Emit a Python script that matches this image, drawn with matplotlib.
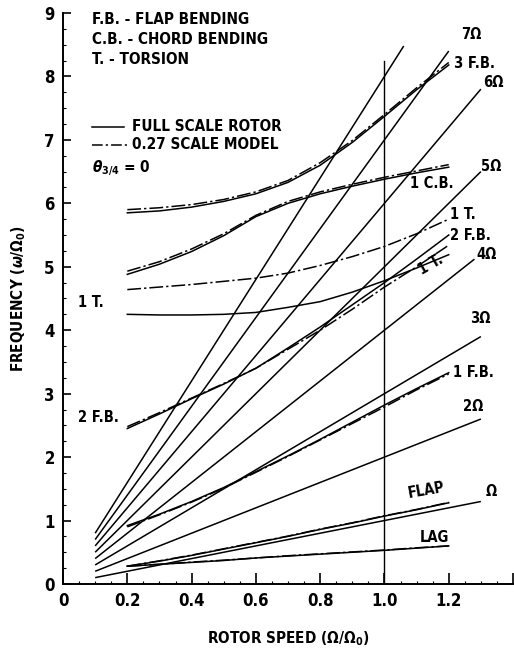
import matplotlib
matplotlib.use("Agg")
import matplotlib.pyplot as plt
from matplotlib import font_manager
from matplotlib.ticker import MultipleLocator, FixedLocator

cond = [f for f in font_manager.fontManager.ttflist
        if f.name == 'DejaVu Sans' and 'ondensed' in f.fname]
FONT = 'DejaVu Sans'
plt.rcParams['font.family'] = [FONT]
plt.rcParams['font.weight'] = 'bold'
if cond:
    plt.rcParams['font.stretch'] = 'condensed'
plt.rcParams['mathtext.fontset'] = 'dejavusans'

# ---------------- data ----------------
speed = [0.2, 0.3, 0.4, 0.5, 0.6, 0.7, 0.8, 0.9, 1.0, 1.1, 1.2]

lag_full   = [0.28, 0.31, 0.34, 0.37, 0.41, 0.44, 0.47, 0.50, 0.53, 0.565, 0.60]
lag_model  = [0.28, 0.31, 0.345, 0.375, 0.41, 0.445, 0.475, 0.505, 0.535, 0.57, 0.60]
flap_full  = [0.28, 0.36, 0.45, 0.55, 0.65, 0.75, 0.86, 0.96, 1.07, 1.17, 1.28]
flap_model = [0.28, 0.365, 0.455, 0.555, 0.655, 0.755, 0.865, 0.965, 1.075, 1.175, 1.285]
fb1_full   = [0.92, 1.10, 1.30, 1.52, 1.77, 2.02, 2.28, 2.55, 2.82, 3.08, 3.33]
fb1_model  = [0.90, 1.09, 1.29, 1.51, 1.76, 2.01, 2.27, 2.53, 2.79, 3.06, 3.31]
fb2_full   = [2.45, 2.68, 2.92, 3.15, 3.40, 3.72, 4.05, 4.40, 4.75, 5.12, 5.50]
fb2_model  = [2.48, 2.70, 2.93, 3.16, 3.40, 3.70, 4.00, 4.33, 4.68, 5.00, 5.34]
t1_full    = [4.25, 4.24, 4.24, 4.25, 4.28, 4.36, 4.45, 4.60, 4.78, 4.98, 5.19]
t1_model   = [4.64, 4.68, 4.72, 4.77, 4.82, 4.90, 5.02, 5.16, 5.32, 5.52, 5.75]
cb1_full   = [4.88, 5.04, 5.24, 5.49, 5.79, 6.00, 6.15, 6.27, 6.38, 6.48, 6.57]
cb1_model  = [4.93, 5.08, 5.28, 5.52, 5.81, 6.03, 6.18, 6.30, 6.41, 6.51, 6.61]
fb3_full   = [5.85, 5.88, 5.94, 6.03, 6.15, 6.33, 6.60, 6.96, 7.37, 7.79, 8.18]
fb3_model  = [5.90, 5.93, 5.98, 6.06, 6.18, 6.36, 6.64, 6.99, 7.40, 7.82, 8.22]

# per-rev lines (order n): start / end points
rev_orders  = [1, 2, 3, 4, 5, 6, 7, 8]
rev_x_start = [0.1, 0.1, 0.1, 0.1, 0.1, 0.1, 0.1, 0.1]
rev_y_start = [0.1, 0.2, 0.3, 0.4, 0.5, 0.6, 0.7, 0.8]
rev_x_end   = [1.3, 1.3, 1.3, 1.28, 1.3, 1.3, 1.2, 1.06]
rev_y_end   = [1.3, 2.6, 3.9, 5.12, 6.5, 7.8, 8.4, 8.48]

x_ticks = [0, 0.2, 0.4, 0.6, 0.8, 1.0, 1.2]
x_tick_labels = ['0', '0.2', '0.4', '0.6', '0.8', '1.0', '1.2']
y_ticks = [0, 1, 2, 3, 4, 5, 6, 7, 8, 9]

# ---------------- figure ----------------
fig = plt.figure(figsize=(5.14, 6.49), dpi=100)
ax = fig.add_axes([0.1226, 0.1002, 0.8755, 0.8798])
ax.set_xlim(0, 1.4)
ax.set_ylim(0, 9)

LW = 1.1
DD = (9, 2, 1.5, 2)

for xs, ys, xe, ye in zip(rev_x_start, rev_y_start, rev_x_end, rev_y_end):
    ax.plot([xs, xe], [ys, ye], color='black', lw=LW, solid_capstyle='butt')

pairs = [(lag_full, lag_model), (flap_full, flap_model), (fb1_full, fb1_model),
         (fb2_full, fb2_model), (t1_full, t1_model), (cb1_full, cb1_model),
         (fb3_full, fb3_model)]
for full, model in pairs:
    ax.plot(speed, full, color='black', lw=LW)
    ax.plot(speed, model, color='black', lw=LW, dashes=DD)

# reference line at operating speed
ax.plot([1.0, 1.0], [0, 8.25], color='black', lw=1.0)

# axes styling
for s in ['top', 'right']:
    ax.spines[s].set_visible(False)
ax.spines['left'].set_linewidth(1.4)
ax.spines['bottom'].set_linewidth(1.4)
ax.xaxis.set_major_locator(FixedLocator(x_ticks + [1.4]))
ax.set_xticklabels(x_tick_labels + [''])
ax.set_yticks(y_ticks)
ax.xaxis.set_minor_locator(MultipleLocator(0.05))
ax.yaxis.set_minor_locator(MultipleLocator(0.25))
ax.tick_params(axis='x', which='major', direction='in', length=8, width=1.2,
               labelsize=12, pad=6)
ax.tick_params(axis='y', which='major', direction='in', length=6, width=1.2,
               labelsize=12, pad=6)
ax.tick_params(which='minor', direction='in', length=2, width=0.8)

ax.set_xlabel(r'ROTOR SPEED ($\Omega/\Omega_0$)', fontsize=11, fontweight='bold', labelpad=14)
ax.set_ylabel(r'FREQUENCY ($\omega/\Omega_0$)', fontsize=11, fontweight='bold', labelpad=12)

# key text
fk = 11
fs = 10.5
ax.text(0.09, 8.9, 'F.B. - FLAP BENDING', fontsize=fk, va='center')
ax.text(0.09, 8.58, 'C.B. - CHORD BENDING', fontsize=fk, va='center')
ax.text(0.09, 8.26, 'T. - TORSION', fontsize=fk, va='center')
ax.plot([0.09, 0.19], [7.21, 7.21], color='black', lw=LW)
ax.text(0.215, 7.21, 'FULL SCALE ROTOR', fontsize=fk, va='center')
ax.plot([0.09, 0.2], [6.92, 6.92], color='black', lw=LW, dashes=(7, 2, 1.5, 2))
ax.text(0.215, 6.92, '0.27 SCALE MODEL', fontsize=fk, va='center')
ax.text(0.09, 6.55, r'$\theta_{3/4}$ = 0', fontsize=fk, va='center')

# curve labels
ax.text(1.24, 8.66, '7Ω', fontsize=fs, va='center')
ax.text(1.215, 8.2, '3 F.B.', fontsize=fs, va='center')
ax.text(1.307, 7.9, '6Ω', fontsize=fs, va='center')
ax.text(1.08, 6.31, '1 C.B.', fontsize=fs, va='center')
ax.text(1.30, 6.58, '5Ω', fontsize=fs, va='center')
ax.text(1.205, 5.82, '1 T.', fontsize=fs, va='center')
ax.text(1.205, 5.49, '2 F.B.', fontsize=fs, va='center')
ax.text(1.145, 5.03, '1 T.', fontsize=fs, va='center', ha='center', rotation=30)
ax.text(1.285, 5.2, '4Ω', fontsize=fs, va='center')
ax.text(1.265, 4.18, '3Ω', fontsize=fs, va='center')
ax.text(1.212, 3.33, '1 F.B.', fontsize=fs, va='center')
ax.text(1.243, 2.79, '2Ω', fontsize=fs, va='center')
ax.text(1.07, 1.47, 'FLAP', fontsize=fs, va='center', rotation=10)
ax.text(1.315, 1.45, 'Ω', fontsize=fs, va='center')
ax.text(1.11, 0.74, 'LAG', fontsize=fs, va='center')
ax.text(0.047, 4.43, '1 T.', fontsize=fs, va='center')
ax.text(0.047, 2.63, '2 F.B.', fontsize=fs, va='center')

fig.savefig('out.png', dpi=100)
